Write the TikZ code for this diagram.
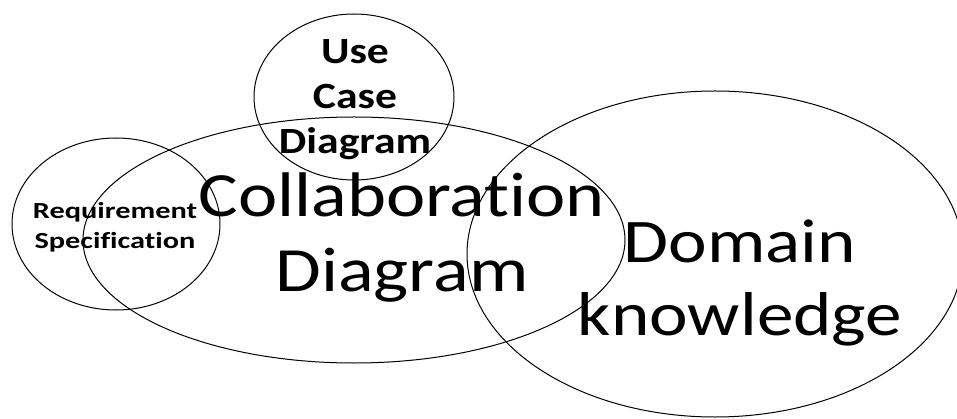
\documentclass[tikz,border=0pt]{standalone}
\usepackage{fontspec}
\setmainfont{Carlito}[FakeStretch=1.18, Ligatures={NoCommon}]
\newfontfamily\widecarlito{Carlito}[FakeStretch=1.32, Ligatures={NoCommon}]
\usetikzlibrary{shapes}

\begin{document}
\begin{tikzpicture}[x=1pt, y=-1pt,
    set/.style={draw, ellipse, inner sep=0pt, line width=1pt},
    lbl/.style={align=center, inner sep=0pt}]

    \useasboundingbox (0,0) rectangle (957,419);

    % the four overlapping sets
    \draw(354,97) node[set, minimum width=200pt, minimum height=166pt] (UC) {};
    \draw(116,224) node[set, minimum width=208pt, minimum height=172pt] (RS) {};
    \draw(354,240) node[set, minimum width=542pt, minimum height=246pt] (CD) {};
    \draw(715,254) node[set, minimum width=496pt, minimum height=326pt] (DK) {};

    % labels
    \draw(355,99.5) node[lbl, font=\fontsize{37}{45}\selectfont\bfseries] (UCtxt) {Use\\Case\\Diagram};
    \draw(115,227) node[lbl, font=\widecarlito\fontsize{23}{30}\selectfont\bfseries] (RStxt) {Requirement\\Specification};
    \draw(402,238) node[lbl, font=\fontsize{63}{75}\selectfont] (CDtxt) {Collaboration\\Diagram};
    \draw(740,283) node[lbl, font=\fontsize{62}{73}\selectfont] (DKtxt) {Domain\\knowledge};

\end{tikzpicture}
\end{document}
